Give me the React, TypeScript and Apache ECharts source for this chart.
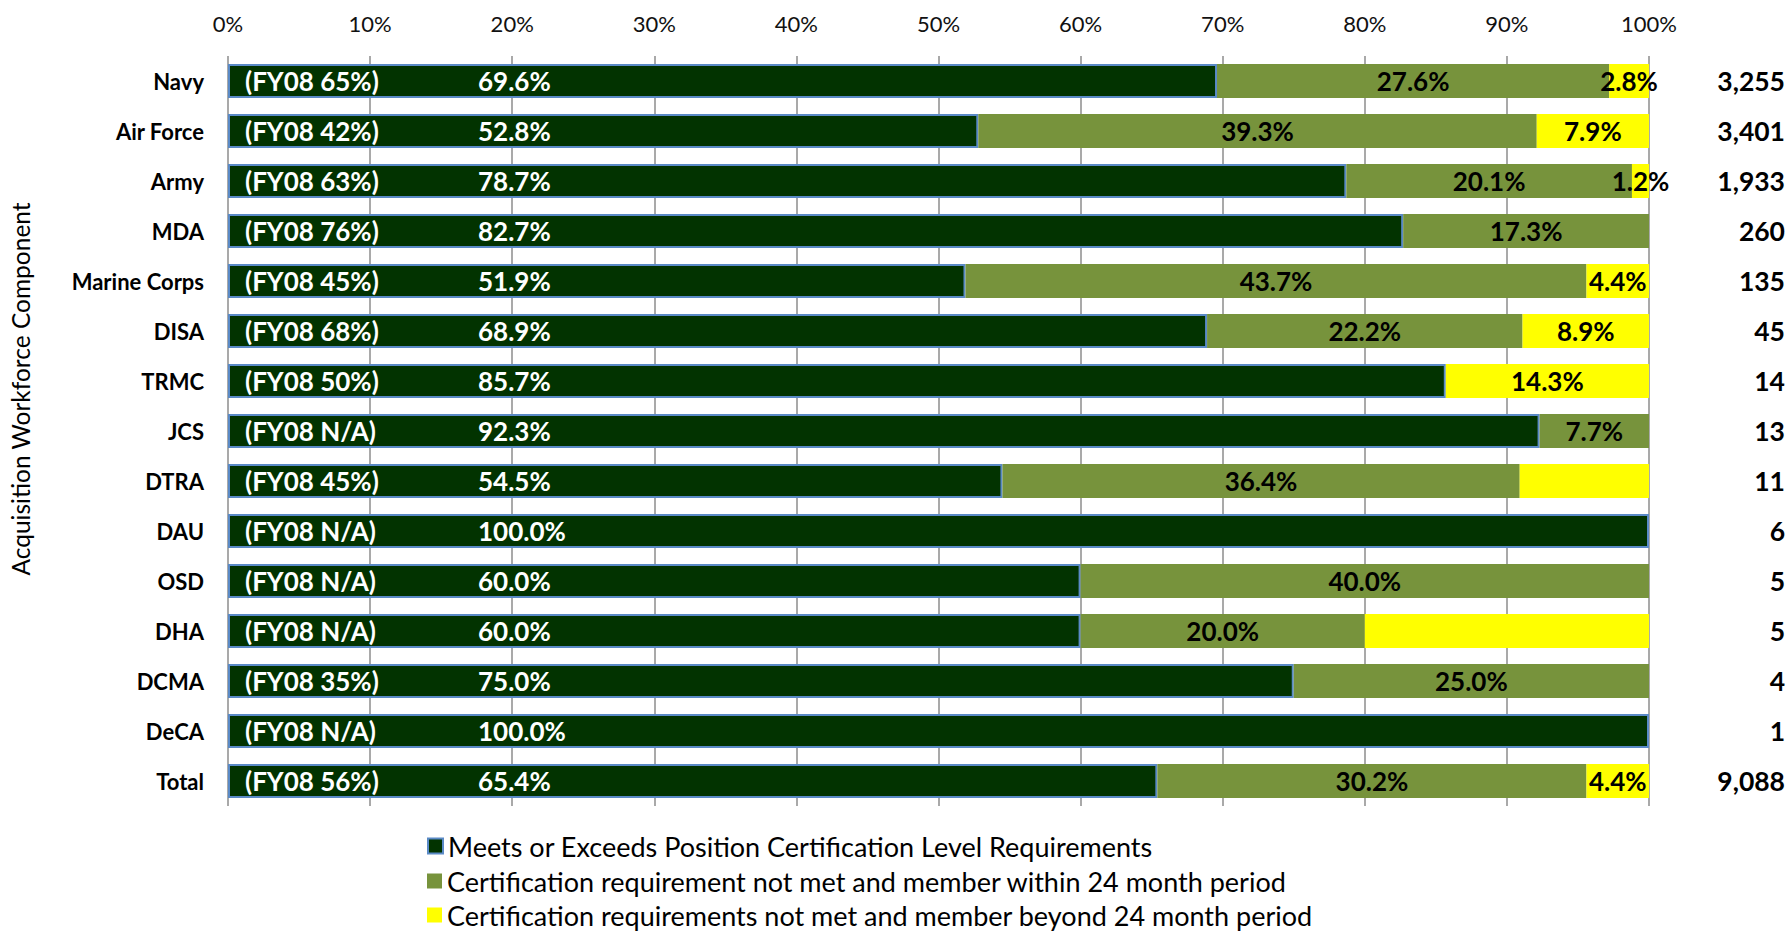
import React, { useEffect, useRef } from "react";
import * as echarts from "echarts";

const categories = [
  "Navy", "Air Force", "Army", "MDA", "Marine Corps", "DISA", "TRMC", "JCS",
  "DTRA", "DAU", "OSD", "DHA", "DCMA", "DeCA", "Total",
];
const fy08 = [
  "65%", "42%", "63%", "76%", "45%", "68%", "50%", "N/A",
  "45%", "N/A", "N/A", "N/A", "35%", "N/A", "56%",
];
const meets = [69.6, 52.8, 78.7, 82.7, 51.9, 68.9, 85.7, 92.3, 54.5, 100.0, 60.0, 60.0, 75.0, 100.0, 65.4];
const within24 = [27.6, 39.3, 20.1, 17.3, 43.7, 22.2, 0, 7.7, 36.4, 0, 40.0, 20.0, 25.0, 0, 30.2];
const beyond24 = [2.8, 7.9, 1.2, 0, 4.4, 8.9, 14.3, 0, 9.1, 0, 0, 20.0, 0, 0, 4.4];
const unlabeledBeyond = ["DTRA", "DHA"];
const counts = ["3,255", "3,401", "1,933", "260", "135", "45", "14", "13", "11", "6", "5", "5", "4", "1", "9,088"];
const seriesNames = [
  "Meets or Exceeds Position Certification Level Requirements",
  "Certification requirement not met and member within 24 month period",
  "Certification requirements not met and member beyond 24 month period",
];

const FONT = "Lato, 'Open Sans', sans-serif";

export default function App() {
  const ref = useRef<HTMLDivElement>(null);
  useEffect(() => {
    if (!ref.current) return;
    const chart = echarts.init(ref.current, null, { renderer: "svg" });
    const segLabel = {
      show: true,
      position: "inside",
      color: "#000",
      fontFamily: FONT,
      fontWeight: "bold",
      fontSize: 26,
      formatter: (p: any) => `${p.value.toFixed(1)}%`,
    };
    const legendTops = [832, 867, 901];
    chart.setOption({
      animation: false,
      textStyle: { fontFamily: FONT },
      grid: { left: 228, right: 140, top: 56, bottom: 126, containLabel: false },
      xAxis: {
        type: "value",
        min: 0,
        max: 100,
        interval: 10,
        position: "top",
        axisLine: { show: false },
        axisTick: { show: false },
        axisLabel: { formatter: "{value}%", fontSize: 22, color: "#111", margin: 22, fontFamily: FONT },
        splitLine: { show: true, lineStyle: { color: "#8c8c8c", width: 1.5 } },
      },
      yAxis: [
        {
          type: "category",
          data: categories,
          inverse: true,
          axisLine: { show: false },
          axisTick: { show: false },
          axisLabel: { fontSize: 22, fontWeight: "bold", color: "#000", margin: 24, fontFamily: FONT },
        },
        {
          type: "category",
          data: counts,
          inverse: true,
          position: "right",
          axisLine: { show: false },
          axisTick: { show: false },
          axisLabel: { fontSize: 26.5, fontWeight: "bold", color: "#000", margin: 136, align: "right", fontFamily: FONT },
        },
      ],
      legend: seriesNames.map((name, i) => ({
        orient: "vertical",
        left: 427,
        top: legendTops[i],
        itemWidth: 15,
        itemHeight: 15,
        icon: "rect",
        padding: 0,
        textStyle: { fontSize: 27, color: "#000", lineHeight: 28, fontFamily: FONT },
        data: [name],
      })),
      graphic: [
        {
          type: "text",
          x: 20,
          y: 389,
          rotation: Math.PI / 2,
          style: {
            text: "Acquisition Workforce Component",
            fontSize: 24.5,
            fontFamily: FONT,
            fill: "#000",
            align: "center",
            verticalAlign: "middle",
          },
        },
      ],
      series: [
        {
          name: seriesNames[0],
          type: "bar",
          stack: "total",
          barWidth: 34,
          itemStyle: { color: "#023300", borderColor: "#5a8ac6", borderWidth: 2 },
          label: {
            show: true,
            position: "insideLeft",
            distance: 17,
            formatter: (p: any) => `{a|(FY08 ${fy08[p.dataIndex]})}{b|${p.value.toFixed(1)}%}`,
            rich: {
              a: { width: 233, color: "#fff", fontWeight: "bold", fontSize: 26, fontFamily: FONT },
              b: { color: "#fff", fontWeight: "bold", fontSize: 26, fontFamily: FONT },
            },
          },
          data: meets,
        },
        {
          name: seriesNames[1],
          type: "bar",
          stack: "total",
          barWidth: 34,
          itemStyle: { color: "#77933c" },
          data: within24.map((v) => ({ value: v, label: { ...segLabel, show: v > 0 } })),
        },
        {
          name: seriesNames[2],
          type: "bar",
          stack: "total",
          barWidth: 34,
          itemStyle: { color: "#ffff00" },
          data: beyond24.map((v, i) => ({
            value: v,
            label: { ...segLabel, show: v > 0 && !unlabeledBeyond.includes(categories[i]) },
          })),
        },
      ],
    });
    return () => chart.dispose();
  }, []);
  return (
    <div
      ref={ref}
      style={{ position: "fixed", left: 0, top: 0, width: 1789, height: 932, background: "#fff" }}
    />
  );
}
